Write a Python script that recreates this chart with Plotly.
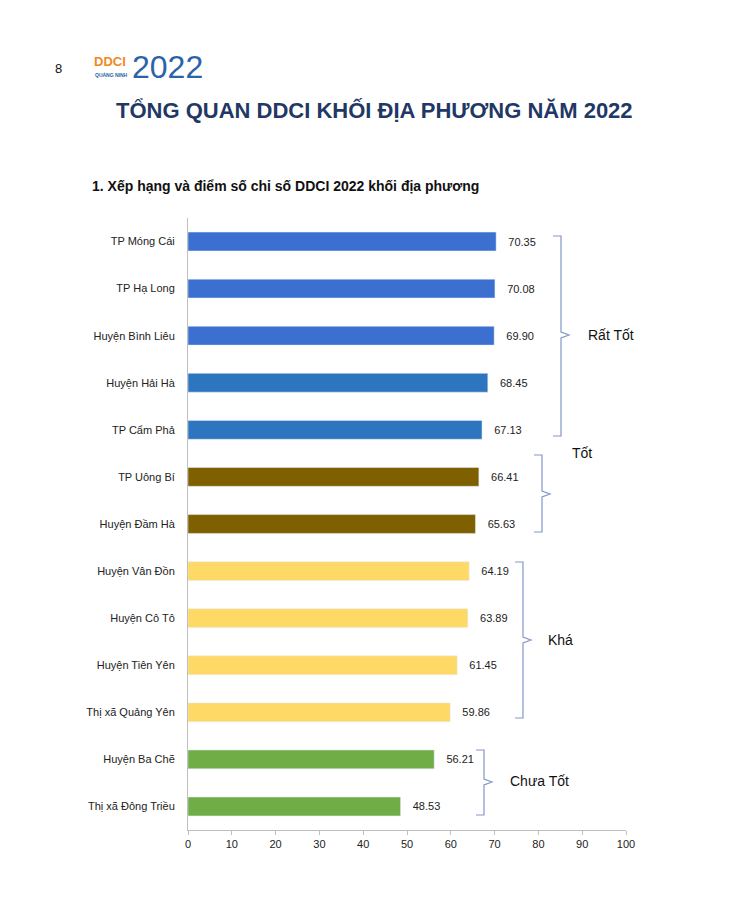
import plotly.graph_objects as go

names = ["TP Móng Cái", "TP Hạ Long", "Huyện Bình Liêu", "Huyện Hải Hà", "TP Cẩm Phả",
         "TP Uông Bí", "Huyện Đầm Hà", "Huyện Vân Đồn", "Huyện Cô Tô", "Huyện Tiên Yên",
         "Thị xã Quảng Yên", "Huyện Ba Chẽ", "Thị xã Đông Triều"]
scores = [70.35, 70.08, 69.90, 68.45, 67.13, 66.41, 65.63, 64.19, 63.89, 61.45, 59.86, 56.21, 48.53]
colors = ["#3b6fd0", "#3b6fd0", "#3b6fd0", "#2e75c0", "#2e75c0",
          "#7f6000", "#7f6000", "#ffd966", "#ffd966", "#ffd966", "#ffd966", "#70ad47", "#70ad47"]

O = 8
W, H = 730 - O, 908 - O
L, R, T, B = 188 - O, 626 - O, 218 - O, 830 - O
idx = list(range(len(names)))

fig = go.Figure(go.Bar(
    x=scores, y=idx, orientation="h", marker_color=colors, width=0.4,
    text=[f"&nbsp;&nbsp;&nbsp;{v:.2f}" for v in scores], textposition="outside",
    textfont=dict(size=11, color="#222"), cliponaxis=False))

def px(x): return (x - O - L) / (R - L)
def py(y): return (B - (y - O)) / (B - T)

shapes = []
ann = []
brk = [(561, 236, 436, 335, "Rất Tốt", 586, 335),
       (542, 455, 532, 494, "Tốt", 570, 453),
       (523, 562, 718, 640, "Khá", 546, 640),
       (484, 750, 815, 782, "Chưa Tốt", 508, 781)]
for x, t, b, m, lab, lx, ly in brk:
    path = (f"M {px(x-8)},{py(t)} L {px(x)},{py(t)} L {px(x)},{py(m-3)} L {px(x+8)},{py(m)} "
            f"L {px(x)},{py(m+3)} L {px(x)},{py(b)} L {px(x-8)},{py(b)}")
    shapes.append(dict(type="path", path=path, xref="paper", yref="paper",
                       line=dict(color="#8296c8", width=1.2)))
    ann.append(dict(text=lab, x=px(lx), y=py(ly), xref="paper", yref="paper",
                    xanchor="left", yanchor="middle", showarrow=False,
                    font=dict(size=14, color="#111")))

def txt(t, x, y, size, color, xa="left"):
    ann.append(dict(text=t, x=px(x), y=py(y), xref="paper", yref="paper", xanchor=xa,
                    yanchor="middle", showarrow=False, font=dict(size=size, color=color)))

txt("<b>TỔNG QUAN DDCI KHỐI ĐỊA PHƯƠNG NĂM 2022</b>", 374, 110, 22, "#1f3864", "center")
txt("<b>1. Xếp hạng và điểm số chỉ số DDCI 2022 khối địa phương</b>", 90, 186, 14, "#111")
txt("8", 58, 68, 13, "#111", "center")
txt("<b>DDCI</b>", 92, 61, 13, "#f08a1c")
txt("<b>QUẢNG NINH</b>", 93, 75, 5, "#2a63a8")
txt("2022", 130, 67, 32, "#2a63a8")

fig.update_layout(
    width=W, height=H, margin=dict(l=L, r=W - R, t=T, b=H - B),
    paper_bgcolor="white", plot_bgcolor="white", showlegend=False,
    font=dict(family="Liberation Sans, Arial", color="#222"),
    xaxis=dict(range=[0, 100], dtick=10, showgrid=False, showline=True, linecolor="#bfbfbf",
               ticks="outside", ticklen=4, tickcolor="#bfbfbf", tickfont=dict(size=11), zeroline=False),
    yaxis=dict(range=[12.5, -0.5], tickvals=idx, ticktext=names, showgrid=False,
               showline=True, linecolor="#bfbfbf", ticks="", tickfont=dict(size=11), ticklabelstandoff=10),
    shapes=shapes, annotations=ann)

fig.write_html("out.html")
